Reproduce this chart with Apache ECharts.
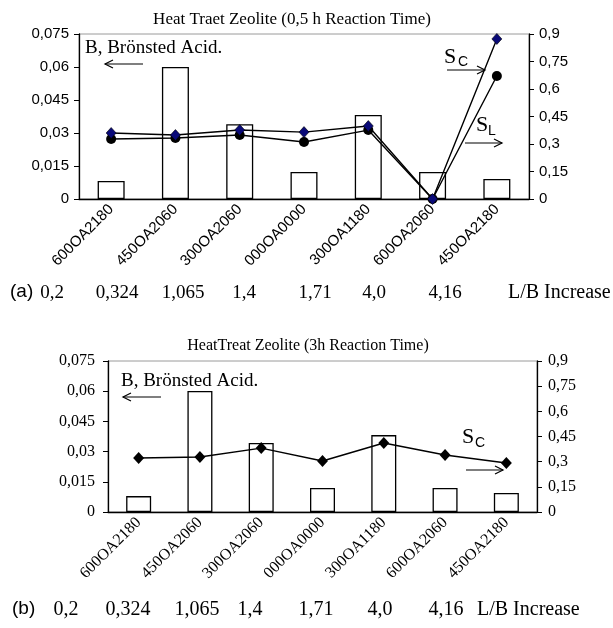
<!DOCTYPE html>
<html>
<head>
<meta charset="utf-8">
<script src="https://cdn.jsdelivr.net/npm/echarts@6/dist/echarts.min.js"></script>
<style>
  html, body { margin: 0; padding: 0; background: #fff; }
  #chart { width: 613px; height: 628px; }
</style>
</head>
<body>
<div id="chart"></div>
<script>
// Zeolite samples along the category axis (ordered by L/B ratio)
const categories = ['600OA2180', '450OA2060', '300OA2060', '000OA0000', '300OA1180', '600OA2060', '450OA2180'];
// L/B ratio printed under each panel
const lbRatios = ['0,2', '0,324', '1,065', '1,4', '1,71', '4,0', '4,16'];

// Panel (a): 0,5 h reaction time
const bronstedA = [0.0082, 0.0600, 0.0340, 0.0123, 0.0382, 0.0123, 0.0091];
const selectivityCA = [0.360, 0.349, 0.376, 0.365, 0.398, 0.000, 0.873];
const selectivityLA = [0.327, 0.333, 0.349, 0.311, 0.376, 0.000, 0.671];

// Panel (b): 3 h reaction time
const bronstedB = [0.0079, 0.0601, 0.0343, 0.0119, 0.0382, 0.0119, 0.0094];
const selectivityCB = [0.322, 0.328, 0.381, 0.304, 0.411, 0.340, 0.292];

// Axis ticks
const leftTicks = { min: 0, max: 0.075, interval: 0.015 };
const rightTicks = { min: 0, max: 0.9, interval: 0.15 };

const SERIF = '"Liberation Serif", "Times New Roman", serif';
const SANS = '"Liberation Sans", Arial, sans-serif';

function comma(v, digits) {
  const p = Math.pow(10, digits);
  return String(Math.round(v * p) / p).replace('.', ',');
}

function catAxis(gridIndex, font, size) {
  return {
    type: 'category', gridIndex, data: categories,
    axisLine: { lineStyle: { color: '#000', width: 1.3 } },
    axisTick: { length: 5, lineStyle: { color: '#000', width: 1 } },
    axisLabel: { rotate: 45, margin: 8, interval: 0, color: '#000', fontFamily: font, fontSize: size }
  };
}
function valAxis(gridIndex, ticks, position, digits, font, size, margin) {
  return {
    type: 'value', gridIndex, position,
    min: ticks.min, max: ticks.max, interval: ticks.interval,
    splitLine: { show: false },
    axisLine: { show: true, lineStyle: { color: '#000', width: 1.3 } },
    axisTick: { show: true, length: 5, lineStyle: { color: '#000', width: 1 } },
    axisLabel: { margin, color: '#000', fontFamily: font, fontSize: size, formatter: v => comma(v, digits) }
  };
}

const barStyle = { color: '#fff', borderColor: '#000', borderWidth: 1.3 };

// Annotation helpers
function txt(x, y, text, font, align) {
  return { type: 'text', x, y, z: 100, style: { text, font, fill: '#000', textAlign: align || 'left', textVerticalAlign: 'middle' } };
}
function arrow(x1, x2, y) {
  const dir = x2 > x1 ? 1 : -1;
  const h = 8, w = 4;
  return [
    { type: 'line', z: 100, shape: { x1, y1: y, x2, y2: y }, style: { stroke: '#000', lineWidth: 1.2 } },
    { type: 'polyline', z: 100, shape: { points: [[x2 - dir * h, y - w], [x2, y], [x2 - dir * h, y + w]] }, style: { stroke: '#000', fill: null, lineWidth: 1.2 } }
  ];
}

const rowXA = [52, 117, 183, 244, 315, 374, 445];
const rowXB = [66, 128, 197, 250, 316, 380, 446];

const graphics = [
  txt(292, 20, 'Heat Traet Zeolite (0,5 h Reaction Time)', '17px ' + SERIF, 'center'),
  txt(308, 346, 'HeatTreat Zeolite (3h Reaction Time)', '16px ' + SERIF, 'center'),
  txt(85, 48, 'B, Brönsted Acid.', '19px ' + SERIF),
  ...arrow(143, 105, 64),
  txt(444, 57, 'S', '22px ' + SERIF),
  txt(458, 62, 'C', '14px ' + SANS),
  ...arrow(447, 485, 70),
  txt(476, 125, 'S', '22px ' + SERIF),
  txt(488, 131, 'L', '14px ' + SANS),
  ...arrow(465, 502, 143),
  txt(121, 381, 'B, Brönsted Acid.', '19px ' + SERIF),
  ...arrow(161, 123, 397),
  txt(462, 437, 'S', '22px ' + SERIF),
  txt(475, 443, 'C', '14px ' + SANS),
  ...arrow(466, 503, 470),
  txt(10, 292, '(a)', '19px ' + SANS),
  txt(508, 293, 'L/B Increase', '20px ' + SERIF),
  txt(12, 609, '(b)', '19px ' + SANS),
  txt(477, 610, 'L/B Increase', '20px ' + SERIF)
];
lbRatios.forEach((t, i) => {
  graphics.push(txt(rowXA[i], 293, t, '19px ' + SERIF, 'center'));
  graphics.push(txt(rowXB[i], 610, t, '20px ' + SERIF, 'center'));
});

const chart = echarts.init(document.getElementById('chart'), null, { renderer: 'canvas' });
chart.setOption({
  animation: false,
  backgroundColor: '#fff',
  grid: [
    { left: 79, top: 34, width: 450, height: 165, show: true, borderColor: '#9a9a9a', borderWidth: 1, backgroundColor: 'transparent' },
    { left: 108, top: 361, width: 429, height: 151, show: true, borderColor: '#9a9a9a', borderWidth: 1, backgroundColor: 'transparent' }
  ],
  xAxis: [
    catAxis(0, SANS, 15),
    catAxis(1, SERIF, 16)
  ],
  yAxis: [
    valAxis(0, leftTicks, 'left', 3, SANS, 15, 10),
    valAxis(0, rightTicks, 'right', 2, SANS, 15, 10),
    valAxis(1, leftTicks, 'left', 3, SERIF, 16, 13),
    valAxis(1, rightTicks, 'right', 2, SERIF, 16, 11)
  ],
  series: [
    { type: 'bar', xAxisIndex: 0, yAxisIndex: 0, data: bronstedA, barWidth: 27, itemStyle: barStyle },
    { type: 'line', xAxisIndex: 0, yAxisIndex: 1, data: selectivityLA, symbol: 'circle', symbolSize: 10,
      lineStyle: { color: '#000', width: 1.4 }, itemStyle: { color: '#000' } },
    { type: 'line', xAxisIndex: 0, yAxisIndex: 1, data: selectivityCA, symbol: 'diamond', symbolSize: [10, 11],
      lineStyle: { color: '#000', width: 1.4 }, itemStyle: { color: '#0a0a78', borderColor: '#000', borderWidth: 0.6 } },
    { type: 'bar', xAxisIndex: 1, yAxisIndex: 2, data: bronstedB, barWidth: 25, itemStyle: barStyle },
    { type: 'line', xAxisIndex: 1, yAxisIndex: 3, data: selectivityCB, symbol: 'diamond', symbolSize: [11, 12],
      lineStyle: { color: '#000', width: 1.4 }, itemStyle: { color: '#000' } }
  ],
  graphic: graphics
});
</script>
</body>
</html>
